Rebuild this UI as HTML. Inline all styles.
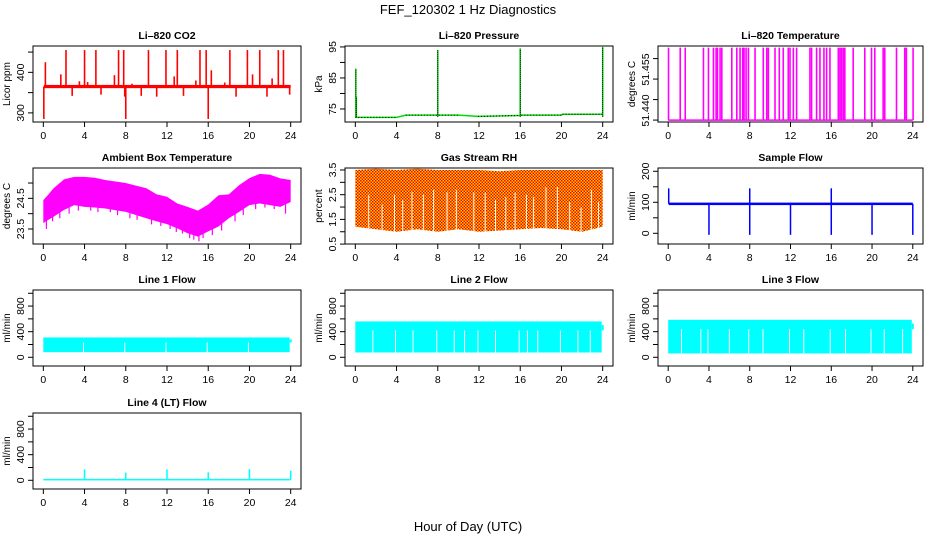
<!DOCTYPE html>
<html><head><meta charset="utf-8"><style>
html,body{margin:0;padding:0;background:#fff;}
svg{display:block;font-family:"Liberation Sans",sans-serif;}
</style></head><body>
<svg id="c" width="936" height="540" viewBox="0 0 936 540">
<defs>
<pattern id="rhpat" width="3" height="3" patternUnits="userSpaceOnUse">
<rect width="3" height="3" fill="#ffd000"/><rect x="0" y="0" width="1.5" height="1.5" fill="#f00000"/><rect x="1.5" y="1.5" width="1.5" height="1.5" fill="#f00000"/>
</pattern>
</defs>
<text x="468" y="14" text-anchor="middle" font-size="13">FEF_120302  1 Hz Diagnostics</text>
<text x="468" y="531" text-anchor="middle" font-size="13">Hour of Day (UTC)</text>
</svg>
<script>
// ---- data ----
const xTicks = [0,4,8,12,16,20,24];
const co2Base = 365;
const co2SpikeTimes = [0.05,0.2,1.7,2.2,2.8,3.5,4.0,4.3,5.1,5.6,6.9,7.3,7.8,7.9,8.0,8.6,9.5,10.2,11.0,11.9,12.7,13.0,13.6,14.8,15.2,15.8,16.0,16.3,17.6,18.1,18.7,19.8,20.3,21.0,21.7,22.2,22.8,23.3,23.9];
const co2SpikeVals = [285,425,395,455,342,378,455,376,455,345,393,455,455,340,285,372,342,455,340,455,390,455,342,380,455,455,285,405,375,455,340,455,395,455,340,385,455,455,345];
const presTimes = [0,4,4.9,10,11.9,16,16.1,20,20.1,24];
const presBase = [72.3,72.3,73.0,73.0,72.6,72.9,73.0,73.0,73.3,73.3];
const presSpikeTimes = [0.05,0.1,8.0,16.0,24.0];
const presSpikeVals = [88,79,94,94.5,95];
const tempBase = 51.4325;
const tempHigh = 51.459;
const tempSpikeTimes = [0.03,1.18,1.67,3.46,3.95,4.44,4.70,4.83,5.09,5.26,6.24,6.73,7.05,7.31,7.44,7.64,7.87,8.52,9.33,9.67,9.83,10.48,10.9,11.29,11.78,11.95,12.28,12.6,13.91,14.07,14.56,14.89,15.28,15.54,15.87,16.69,16.85,17.0,17.17,17.33,18.15,19.29,19.95,20.27,21.09,21.25,22.4,23.21,23.37,24.03];
const ambTimes = [0,0.5,1,2,3,4,5,6,8,10,11,12,13,14,15,16,17,18,19,20,21,22,23,24];
const ambUpper = [24.44,24.63,24.83,25.12,25.2,25.2,25.17,25.1,25.0,24.83,24.63,24.55,24.33,24.22,24.1,24.3,24.6,24.63,24.93,25.16,25.3,25.27,25.15,25.1];
const ambLower = [23.69,23.8,23.9,24.12,24.28,24.22,24.2,24.17,24.06,23.85,23.75,23.66,23.52,23.36,23.25,23.42,23.58,23.85,24.06,24.28,24.33,24.28,24.22,24.38];
const ambDipTimes = [0.3,0.9,1.6,2.5,3.4,4.6,5.3,6.5,7.2,8.4,9.1,10.5,11.4,12.3,12.9,13.5,14.2,14.6,15.1,15.5,16.4,17.3,18.6,19.4,20.6,21.5,22.4,23.5];
const ambDipVals = [23.5,23.75,23.85,24.0,24.1,24.1,24.05,24.05,23.95,23.85,23.8,23.65,23.6,23.5,23.4,23.35,23.2,23.15,23.1,23.2,23.3,23.45,23.75,23.95,24.15,24.2,24.15,24.0];
const rhTimes = [0,2,4,6,8,10,12,14,16,18,20,22,24];
const rhUpper = [3.5,3.55,3.5,3.55,3.5,3.5,3.5,3.45,3.5,3.5,3.5,3.5,3.5];
const rhLower = [1.2,1.1,1.0,1.1,1.0,1.1,1.0,1.05,1.1,1.15,1.1,1.0,1.2];
const rhGapTimes = [1.3,2.6,3.8,4.6,5.5,6.6,7.6,8.9,9.8,11.5,12.6,13.6,14.6,15.5,16.6,17.3,18.5,19.6,20.8,21.9,22.9,23.6];
const rhGapTops = [2.5,2.1,2.5,2.3,2.6,2.5,2.7,2.6,2.7,2.6,2.6,2.3,2.4,2.6,2.5,2.4,2.8,2.8,2.2,2.0,2.7,2.2];
const sampBase = 95;
const sampDropTimes = [4,8,12,16,20,24];
const sampDropVals = [-5,-5,-5,-5,-5,-5];
const sampSpikeTimes = [0.05,8.0,16.0];
const sampSpikeVals = [145,145,145];
const l1Low = 80, l1High = 310;
const l1GapTimes = [3.9,7.9,11.9,15.9,19.9];
const l2Low = 75, l2High = 560;
const l2GapTimes = [1.7,3.9,5.6,7.9,9.6,10.6,11.9,13.6,15.9,16.7,17.7,19.9,21.6,22.8];
const l3Low = 60, l3High = 585;
const l3GapTimes = [1.3,3.2,3.9,6.0,7.9,9.3,11.9,13.3,15.9,17.4,19.9,21.2,23.0];
const l4Base = 10;
const l4SpikeTimes = [4,8,12,16,20,24];
const l4SpikeVals = [170,120,170,125,175,150];

// ---- drawing helpers ----
const svg = document.getElementById('c');
const NS = 'http://www.w3.org/2000/svg';
function mk(tag, attrs, parent){ const e=document.createElementNS(NS,tag); for(const k in attrs) e.setAttribute(k,attrs[k]); (parent||svg).appendChild(e); return e; }
const cols = [33,345,658], colW = [268,268,265];
const rowTop = [46,168,290,413], H = 76;

function panel(name, col, row, title, ylab, ymin, ymax, yTicks, yLabels, yLabelVals){
  const g = mk('g',{});
  
  
  const L = cols[col], T = rowTop[row], W = colW[col];
  const x0 = L + W*0.0385, x1 = L + W - W*0.0385;
  const sx = v => x0 + (x1-x0)*v/24;
  const sy = v => T + H - (v-ymin)/(ymax-ymin)*H;
  const plot = mk('g',{}, g);
  
  
  const box = mk('rect',{x:L,y:T,width:W,height:H,fill:'none',stroke:'#000','stroke-width':1}, g);
  
  
  const t = mk('text',{x:L+W/2,y:T-7,'text-anchor':'middle','font-size':10.5,'font-weight':'bold'}, g);
  t.textContent = title;
  
  
  const xa = mk('g',{}, g);
  
  
  mk('line',{x1:sx(0),x2:sx(24),y1:T+H,y2:T+H,stroke:'#000'}, xa);
  xTicks.forEach(v=>{
    mk('line',{x1:sx(v),x2:sx(v),y1:T+H,y2:T+H+5,stroke:'#000'}, xa);
    const tx = mk('text',{x:sx(v),y:T+H+17,'text-anchor':'middle','font-size':10.5}, xa);
    tx.textContent = v;
    
    
  });
  const ya = mk('g',{}, g);
  
  
  mk('line',{x1:L,x2:L,y1:sy(yTicks[0]),y2:sy(yTicks[yTicks.length-1]),stroke:'#000'}, ya);
  yTicks.forEach(v=> mk('line',{x1:L-5,x2:L,y1:sy(v),y2:sy(v),stroke:'#000'}, ya));
  yLabels.forEach((lab,i)=>{
    const yy = sy(yLabelVals[i]);
    const ty = mk('text',{x:L-9,y:yy,'text-anchor':'middle','font-size':10.5,transform:`rotate(-90 ${L-9} ${yy})`}, ya);
    ty.textContent = lab;
    
    
  });
  const yl = mk('text',{x:L-23,y:T+H/2,'text-anchor':'middle','font-size':10,transform:`rotate(-90 ${L-23} ${T+H/2})`}, g);
  yl.textContent = ylab;
  
  
  return {plot, sx, sy};
}
function vline(p, x, ya, yb, color, w, nm){
  const l = mk('line',{x1:x,x2:x,y1:ya,y2:yb,stroke:color,'stroke-width':w||1}, p);
  
  
  return l;
}
function poly(p, pts, fill, nm){
  const e = mk('polygon',{points:pts.map(q=>q.join(',')).join(' '),fill:fill,stroke:'none'}, p);
  
  
  return e;
}

// CO2
(function(){
  const P = panel('co2',0,0,'Li\u2013820 CO2','Licor ppm',277.5,465,[300,350,400,450],['300','400'],[300,400]);
  co2SpikeTimes.forEach((t,i)=> vline(P.plot,P.sx(t),P.sy(co2Base),P.sy(co2SpikeVals[i]),'#ff0000',1.6,'co2-spike'));
  const r = mk('rect',{x:P.sx(0.05),y:P.sy(co2Base+4),width:P.sx(24)-P.sx(0.05),height:P.sy(co2Base-4)-P.sy(co2Base+4),fill:'#ff0000'},P.plot);
  
  
})();
// Pressure
(function(){
  const P = panel('pressure',1,0,'Li\u2013820 Pressure','kPa',70.8,95.3,[75,80,85,90,95],['75','85','95'],[75,85,95]);
  const pl = mk('polyline',{points:presTimes.map((t,i)=>P.sx(t)+','+P.sy(presBase[i])).join(' '),fill:'none',stroke:'#00dd00','stroke-width':1.5},P.plot);
  
  
  presTimes.forEach((t,i)=>{ if(i%2==0 && i+1<presTimes.length){ const l=mk('line',{x1:P.sx(t),x2:P.sx(presTimes[i+1]),y1:P.sy(presBase[i]),y2:P.sy(presBase[i+1]),stroke:'#000','stroke-dasharray':'1,2'},P.plot);   }});
  presSpikeTimes.forEach((t,i)=>{
    vline(P.plot,P.sx(t),P.sy(72.5),P.sy(presSpikeVals[i]),'#00dd00',1.5,'pressure-spike');
    const d = vline(P.plot,P.sx(t),P.sy(72.5),P.sy(presSpikeVals[i]),'#000',1,'pressure-spike-dots');
    d.setAttribute('stroke-dasharray','1,1');
  });
})();
// Temperature
(function(){
  const P = panel('li820-temp',2,0,'Li\u2013820 Temperature','degrees C',51.4318,51.4596,[51.4325,51.44,51.4475,51.455],['51.440','51.455'],[51.436,51.451]);
  const b = mk('line',{x1:P.sx(0),x2:P.sx(24),y1:P.sy(tempBase),y2:P.sy(tempBase),stroke:'#ff00ff','stroke-width':1.5},P.plot);
  
  
  tempSpikeTimes.forEach(t=> vline(P.plot,P.sx(t),P.sy(tempBase),P.sy(tempHigh),'#ff00ff',1.6,'temp-spike'));
})();
// Ambient
(function(){
  const P = panel('ambient-temp',0,1,'Ambient Box Temperature','degrees C',23.01,25.49,[23.5,24,24.5,25],['23.5','24.5'],[23.5,24.5]);
  const pts = ambTimes.map((t,i)=>[P.sx(t),P.sy(ambUpper[i])]).concat(ambTimes.map((t,i)=>[P.sx(t),P.sy(ambLower[i])]).reverse());
  poly(P.plot, pts, '#ff00ff', 'ambient-band');
  ambDipTimes.forEach((t,i)=> vline(P.plot,P.sx(t),P.sy(ambDipVals[i]+0.3),P.sy(ambDipVals[i]),'#ff00ff',1.2,'ambient-dip'));
})();
// RH
(function(){
  const P = panel('gas-rh',1,1,'Gas Stream RH','percent',0.504,3.58,[0.5,1,1.5,2,2.5,3,3.5],['0.5','1.5','2.5','3.5'],[0.5,1.5,2.5,3.5]);
  const pts = rhTimes.map((t,i)=>[P.sx(t),P.sy(rhUpper[i])]).concat(rhTimes.map((t,i)=>[P.sx(t),P.sy(rhLower[i])]).reverse());
  poly(P.plot, pts, 'url(#rhpat)', 'rh-band');
  rhGapTimes.forEach((t,i)=> vline(P.plot,P.sx(t),P.sy(0.9),P.sy(rhGapTops[i]),'#ffffff',1,'rh-gap'));
})();
// Sample flow
(function(){
  const P = panel('sample-flow',2,1,'Sample Flow','ml/min',-34.5,210.6,[0,50,100,150,200],['0','100','200'],[0,100,200]);
  const r = mk('rect',{x:P.sx(0.05),y:P.sy(sampBase+4),width:P.sx(24)-P.sx(0.05),height:P.sy(sampBase-4)-P.sy(sampBase+4),fill:'#0000ff'},P.plot);
  
  
  sampDropTimes.forEach((t,i)=> vline(P.plot,P.sx(t),P.sy(sampBase),P.sy(sampDropVals[i]),'#0000ff',1.5,'sample-drop'));
  sampSpikeTimes.forEach((t,i)=> vline(P.plot,P.sx(t),P.sy(sampBase),P.sy(sampSpikeVals[i]),'#0000ff',1.5,'sample-spike'));
})();
// Line flows
function flowPanel(name,col,row,title,low,high,gaps){
  const P = panel(name,col,row,title,'ml/min',-136,1051,[0,200,400,600,800,1000],['0','400','800'],[0,400,800]);
  const r = mk('rect',{x:P.sx(0),y:P.sy(high),width:P.sx(23.9)-P.sx(0),height:P.sy(low)-P.sy(high),fill:'#00ffff'},P.plot);
  
  
  vline(P.plot,P.sx(24),P.sy(high*0.75),P.sy(high*0.9),'#00ffff',2,name+'-end');
  gaps.forEach(t=> vline(P.plot,P.sx(t),P.sy(low),P.sy(high*0.75),'#ffffff',1,name+'-gap'));
  return P;
}
flowPanel('line1-flow',0,2,'Line 1 Flow',l1Low,l1High,l1GapTimes);
flowPanel('line2-flow',1,2,'Line 2 Flow',l2Low,l2High,l2GapTimes);
flowPanel('line3-flow',2,2,'Line 3 Flow',l3Low,l3High,l3GapTimes);
(function(){
  const P = panel('line4-flow',0,3,'Line 4 (LT) Flow','ml/min',-136,1051,[0,200,400,600,800,1000],['0','400','800'],[0,400,800]);
  const r = mk('rect',{x:P.sx(0),y:P.sy(l4Base+12),width:P.sx(24)-P.sx(0),height:P.sy(l4Base-12)-P.sy(l4Base+12),fill:'#00ffff'},P.plot);
  
  
  l4SpikeTimes.forEach((t,i)=> vline(P.plot,P.sx(t),P.sy(l4Base),P.sy(l4SpikeVals[i]),'#00ffff',1.5,'line4-spike'));
})();
</script>
</body></html>
